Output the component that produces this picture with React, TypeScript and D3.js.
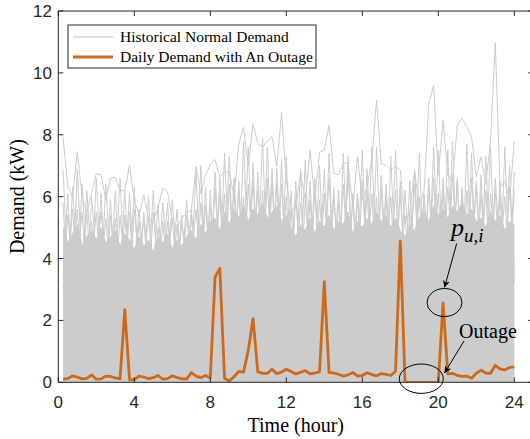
import React from "react";
import * as d3 from "d3";

// Time steps (hours) – 15-minute resolution
const times: number[] = d3.range(1, 97).map((i) => i * 0.25);

// Daily demand with an outage (kW)
const outageDay: number[] = [
  0.10, 0.12, 0.21, 0.17, 0.11, 0.13, 0.24, 0.10,
  0.11, 0.20, 0.19, 0.14, 0.11, 2.35, 0.08, 0.09,
  0.20, 0.17, 0.12, 0.15, 0.22, 0.10, 0.12, 0.21,
  0.15, 0.12, 0.10, 0.31, 0.20, 0.15, 0.22, 0.14,
  3.40, 3.68, 0.13, 0.04, 0.18, 0.35, 0.33, 1.04,
  2.06, 0.34, 0.29, 0.29, 0.42, 0.28, 0.33, 0.42,
  0.35, 0.27, 0.32, 0.38, 0.27, 0.30, 0.34, 3.25,
  0.32, 0.30, 0.26, 0.20, 0.24, 0.32, 0.20, 0.22,
  0.31, 0.25, 0.21, 0.28, 0.26, 0.22, 0.36, 4.56,
  0, 0, 0, 0, 0, 0, 0, 0,
  2.57, 0.27, 0.29, 0.22, 0.19, 0.20, 0.13, 0.29,
  0.39, 0.30, 0.29, 0.55, 0.43, 0.40, 0.48, 0.50,
];

// Historical normal demand: upper envelope (highest days)
const histMax: number[] = [
  7.94, 6.3, 6.0, 7.45, 6.0, 5.5, 6.1, 6.75,
  6.7, 5.9, 6.6, 6.62, 6.2, 6.2, 7.0, 5.9,
  5.4, 6.05, 5.3, 5.2, 5.67, 6.27, 6.15, 5.2,
  5.0, 5.3, 5.5, 5.55, 6.97, 6.1, 6.7, 7.02,
  7.2, 6.64, 6.8, 6.8, 6.0, 7.7, 8.24, 7.0,
  8.37, 7.72, 7.6, 7.8, 7.94, 6.97, 8.72, 6.5,
  5.57, 5.67, 6.75, 5.9, 7.5, 5.9, 7.43, 7.5,
  8.31, 6.75, 6.7, 7.07, 7.1, 5.67, 7.29, 5.9,
  6.27, 7.2, 9.12, 7.07, 7.02, 6.85, 6.97, 6.85,
  5.2, 5.5, 6.85, 5.67, 6.2, 9.0, 9.6, 6.7,
  8.47, 6.7, 6.5, 8.31, 8.53, 8.26, 7.94, 6.64,
  7.29, 6.4, 7.83, 10.97, 6.27, 6.5, 5.9, 7.8,
];

// Historical normal demand: individual spiky days
const histDayA: number[] = [
  6.9, 3.5, 5.6, 3.2, 6.4, 3.8, 5.2, 3.4,
  6.1, 3.1, 5.4, 3.6, 6.6, 3.3, 5.5, 3.0,
  5.2, 3.5, 6.0, 3.2, 5.0, 3.7, 5.8, 3.3,
  5.1, 3.4, 5.9, 3.8, 6.8, 3.2, 5.7, 3.6,
  6.3, 3.5, 7.4, 3.9, 6.2, 3.4, 7.8, 3.8,
  6.5, 3.6, 7.9, 3.3, 6.4, 3.7, 7.2, 3.2,
  5.6, 3.5, 6.9, 3.1, 5.9, 3.6, 7.0, 3.4,
  7.4, 3.3, 5.8, 3.8, 7.3, 3.2, 6.0, 3.5,
  6.2, 3.4, 7.6, 3.7, 6.0, 3.2, 7.5, 3.6,
  5.4, 3.3, 6.9, 3.8, 6.1, 3.4, 7.6, 3.9,
  6.6, 3.5, 7.8, 3.2, 6.3, 3.6, 7.4, 3.3,
  6.1, 3.8, 7.6, 3.4, 6.0, 3.6, 7.0, 3.2,
];

const histDayB: number[] = [
  3.4, 6.1, 3.1, 6.9, 3.7, 5.5, 3.2, 6.6,
  3.6, 5.3, 3.3, 6.2, 3.0, 5.4, 3.5, 6.3,
  3.2, 5.5, 3.6, 6.2, 3.1, 5.2, 3.4, 5.9,
  3.7, 5.4, 3.3, 5.6, 3.5, 7.0, 3.1, 6.2,
  3.4, 6.6, 3.8, 7.3, 3.3, 6.5, 3.6, 7.6,
  3.5, 6.8, 3.2, 7.6, 3.7, 6.4, 3.4, 7.3,
  3.3, 6.0, 3.6, 7.2, 3.2, 6.2, 3.5, 6.9,
  3.6, 6.3, 3.1, 7.4, 3.4, 6.1, 3.7, 7.5,
  3.3, 7.6, 3.5, 6.3, 3.1, 7.3, 3.6, 6.1,
  3.4, 6.5, 3.2, 7.4, 3.5, 6.6, 3.3, 7.5,
  3.6, 7.5, 3.4, 6.5, 3.1, 7.7, 3.6, 6.4,
  3.3, 7.3, 3.7, 6.2, 3.2, 7.6, 3.5, 6.8,
];

const histDayC: number[] = [
  5.8, 2.9, 6.3, 3.9, 5.5, 3.1, 6.0, 4.0,
  5.5, 3.8, 5.9, 3.0, 5.4, 3.7, 6.1, 3.5,
  5.6, 3.9, 5.3, 3.6, 5.7, 3.0, 5.2, 3.8,
  5.6, 3.1, 5.4, 3.9, 5.6, 3.6, 6.3, 3.3,
  6.8, 3.8, 6.1, 3.2, 6.6, 4.0, 6.0, 3.6,
  7.1, 3.3, 6.2, 3.9, 6.9, 3.5, 6.4, 3.8,
  6.2, 3.6, 5.8, 3.9, 6.5, 3.2, 5.9, 3.7,
  6.6, 3.8, 6.2, 3.4, 6.7, 3.9, 6.1, 3.1,
  6.9, 3.7, 6.0, 3.3, 6.4, 3.8, 6.2, 3.5,
  6.2, 3.9, 6.4, 3.4, 6.0, 3.8, 6.6, 3.2,
  6.2, 3.8, 6.7, 3.9, 6.2, 3.3, 6.6, 3.7,
  6.7, 3.2, 6.1, 3.9, 6.5, 3.5, 6.3, 3.7,
];

const histDayD: number[] = [
  3.0, 5.4, 3.8, 5.6, 3.3, 6.2, 3.9, 5.5,
  3.2, 6.4, 3.7, 5.3, 3.4, 6.2, 3.1, 5.6,
  3.8, 5.3, 3.0, 5.5, 3.6, 5.8, 3.9, 5.3,
  3.3, 5.2, 3.9, 5.4, 3.2, 5.8, 3.8, 5.7,
  3.6, 6.1, 3.1, 6.4, 3.7, 6.2, 3.3, 6.4,
  3.9, 6.2, 3.5, 6.6, 3.2, 6.9, 3.8, 6.0,
  3.5, 6.5, 3.2, 5.9, 3.8, 6.6, 3.3, 6.1,
  3.4, 6.0, 3.8, 6.4, 3.6, 5.9, 3.2, 6.5,
  3.7, 6.1, 3.4, 6.7, 3.8, 6.0, 3.1, 6.5,
  3.2, 5.5, 3.8, 6.0, 3.4, 6.3, 3.9, 6.1,
  3.5, 6.3, 3.9, 6.6, 3.4, 6.2, 3.7, 6.5,
  3.8, 6.2, 3.3, 6.6, 3.9, 6.0, 3.4, 6.2,
];

// Historical normal demand: top of the dense band of overlapping days
const histDense: number[] = [
  5.0, 4.5, 4.8, 5.1, 4.4, 4.7, 4.9, 4.6,
  5.0, 4.5, 4.7, 4.9, 4.4, 4.8, 4.6, 4.3,
  4.7, 4.4, 4.6, 4.2, 4.7, 4.5, 4.8, 4.3,
  4.6, 4.4, 4.7, 4.9, 4.6, 5.1, 4.8, 5.2,
  5.3, 4.9, 5.5, 5.1, 5.6, 5.3, 5.7, 5.2,
  5.6, 5.4, 5.8, 5.3, 5.5, 5.7, 5.2, 5.4,
  5.0, 4.7, 5.1, 4.9, 5.3, 4.8, 5.2, 5.0,
  5.4, 4.9, 5.2, 5.1, 5.5, 4.8, 5.2, 5.0,
  5.3, 5.1, 5.5, 5.2, 5.4, 5.0, 5.3, 4.9,
  4.7, 5.1, 4.9, 5.3, 5.5, 5.2, 5.7, 5.4,
  5.6, 5.3, 5.7, 5.5, 5.8, 5.4, 5.6, 5.2,
  5.3, 5.0, 5.5, 5.2, 5.4, 4.9, 5.2, 5.1,
];

const historicalDays: number[][] = [histDayC, histDayD, histDayA, histDayB, histMax];

const xTicks: number[] = [0, 4, 8, 12, 16, 20, 24];
const yTicks: number[] = [0, 2, 4, 6, 8, 10, 12];

const legendLabels: string[] = ["Historical Normal Demand", "Daily Demand with An Outage"];

const W = 530;
const H = 439;
const M = { left: 58.3, right: 533.3, top: 11, bottom: 382.3 };

const GRAY = "#cccccc";
const ORANGE = "#cc6a1c";
const AXIS = "#262626";
const SERIF = "'Liberation Serif', 'Times New Roman', Times, serif";
const SANS = "'Liberation Sans', Arial, Helvetica, sans-serif";

export default function App() {
  const x = d3.scaleLinear().domain([0, 25]).range([M.left, M.right]);
  const y = d3.scaleLinear().domain([0, 12]).range([M.bottom, M.top]);

  const line = (vals: number[]) =>
    d3
      .line<number>()
      .x((_, i) => x(times[i]))
      .y((d) => y(d))(vals) || "";

  const denseArea =
    d3
      .area<number>()
      .x((_, i) => x(times[i]))
      .y0(y(0))
      .y1((d) => y(d))(histDense) || "";

  const tickLen = 5;

  return (
    <svg
      width={W}
      height={H}
      style={{ position: "absolute", left: 0, top: 0, background: "#fff" }}
    >
      <defs>
        <clipPath id="plot">
          <rect x={M.left} y={M.top} width={M.right - M.left} height={M.bottom - M.top} />
        </clipPath>
        <marker
          id="arrow"
          viewBox="0 0 10 10"
          refX="10"
          refY="5"
          markerWidth="7"
          markerHeight="7"
          markerUnits="userSpaceOnUse"
          orient="auto"
        >
          <path d="M0,0 L10,5 L0,10 L3,5 Z" fill="#000" />
        </marker>
      </defs>

      <g clipPath="url(#plot)">
        <path d={denseArea} fill={GRAY} stroke="none" />
        <path d={line(histDense)} fill="none" stroke={GRAY} strokeWidth={1} />
        {historicalDays.map((vals, k) => (
          <path key={"h" + k} d={line(vals)} fill="none" stroke={GRAY} strokeWidth={1} />
        ))}
        <path
          d={line(outageDay)}
          fill="none"
          stroke={ORANGE}
          strokeWidth={2.8}
          strokeLinejoin="round"
        />
      </g>

      {/* axes box */}
      <g stroke={AXIS} strokeWidth={1} fill="none">
        <line x1={M.left} x2={M.right} y1={M.bottom} y2={M.bottom} />
        <line x1={M.left} x2={M.right} y1={M.top} y2={M.top} />
        <line x1={M.left} x2={M.left} y1={M.top} y2={M.bottom} />
        <line x1={M.right} x2={M.right} y1={M.top} y2={M.bottom} />
        {xTicks.map((t) => (
          <g key={"xt" + t}>
            <line x1={x(t)} x2={x(t)} y1={M.bottom} y2={M.bottom - tickLen} />
            <line x1={x(t)} x2={x(t)} y1={M.top} y2={M.top + tickLen} />
          </g>
        ))}
        {yTicks.map((t) => (
          <g key={"yt" + t}>
            <line x1={M.left} x2={M.left + tickLen} y1={y(t)} y2={y(t)} />
            <line x1={M.right} x2={M.right - tickLen} y1={y(t)} y2={y(t)} />
          </g>
        ))}
      </g>

      {/* tick labels */}
      <g fontFamily={SANS} fontSize={17} fill={AXIS}>
        {xTicks.map((t) => (
          <text key={"xl" + t} x={x(t)} y={M.bottom + 25.5} textAnchor="middle">
            {t}
          </text>
        ))}
        {yTicks.map((t) => (
          <text key={"yl" + t} x={52} y={y(t) + 6} textAnchor="end">
            {t}
          </text>
        ))}
      </g>

      {/* axis labels */}
      <text
        x={(M.left + M.right) / 2}
        y={432}
        textAnchor="middle"
        fontFamily={SERIF}
        fontSize={20}
        fill="#000"
      >
        Time (hour)
      </text>
      <text
        transform={`translate(24, ${(M.top + M.bottom) / 2}) rotate(-90)`}
        textAnchor="middle"
        fontFamily={SERIF}
        fontSize={20}
        fill="#000"
      >
        Demand (kW)
      </text>

      {/* legend */}
      <g>
        <rect x={68} y={25} width={248} height={43} fill="#fff" stroke={AXIS} strokeWidth={1} />
        <line x1={73} x2={113} y1={37} y2={37} stroke="#d4d4d4" strokeWidth={1.5} />
        <line x1={73} x2={113} y1={57} y2={57} stroke={ORANGE} strokeWidth={3} />
        <text x={120} y={42} fontFamily={SERIF} fontSize={15.5} fill="#000">
          {legendLabels[0]}
        </text>
        <text x={120} y={62} fontFamily={SERIF} fontSize={15.5} fill="#000">
          {legendLabels[1]}
        </text>
      </g>

      {/* annotations */}
      <g fill="none" stroke="#000" strokeWidth={1}>
        <ellipse cx={444.5} cy={302.5} rx={17.5} ry={14} />
        <ellipse cx={421.3} cy={378.7} rx={22} ry={14.7} />
        <line x1={456.7} y1={243.5} x2={444.5} y2={287.5} markerEnd="url(#arrow)" />
        <line x1={464} y1={341} x2={444.5} y2={373} markerEnd="url(#arrow)" />
      </g>
      <text x={451} y={236} fontFamily={SERIF} fontStyle="italic" fontSize={26} fill="#000">
        p
        <tspan fontSize={19} dy={6}>
          u,i
        </tspan>
      </text>
      <text x={459} y={338} fontFamily={SERIF} fontSize={20} fill="#000">
        Outage
      </text>
    </svg>
  );
}
